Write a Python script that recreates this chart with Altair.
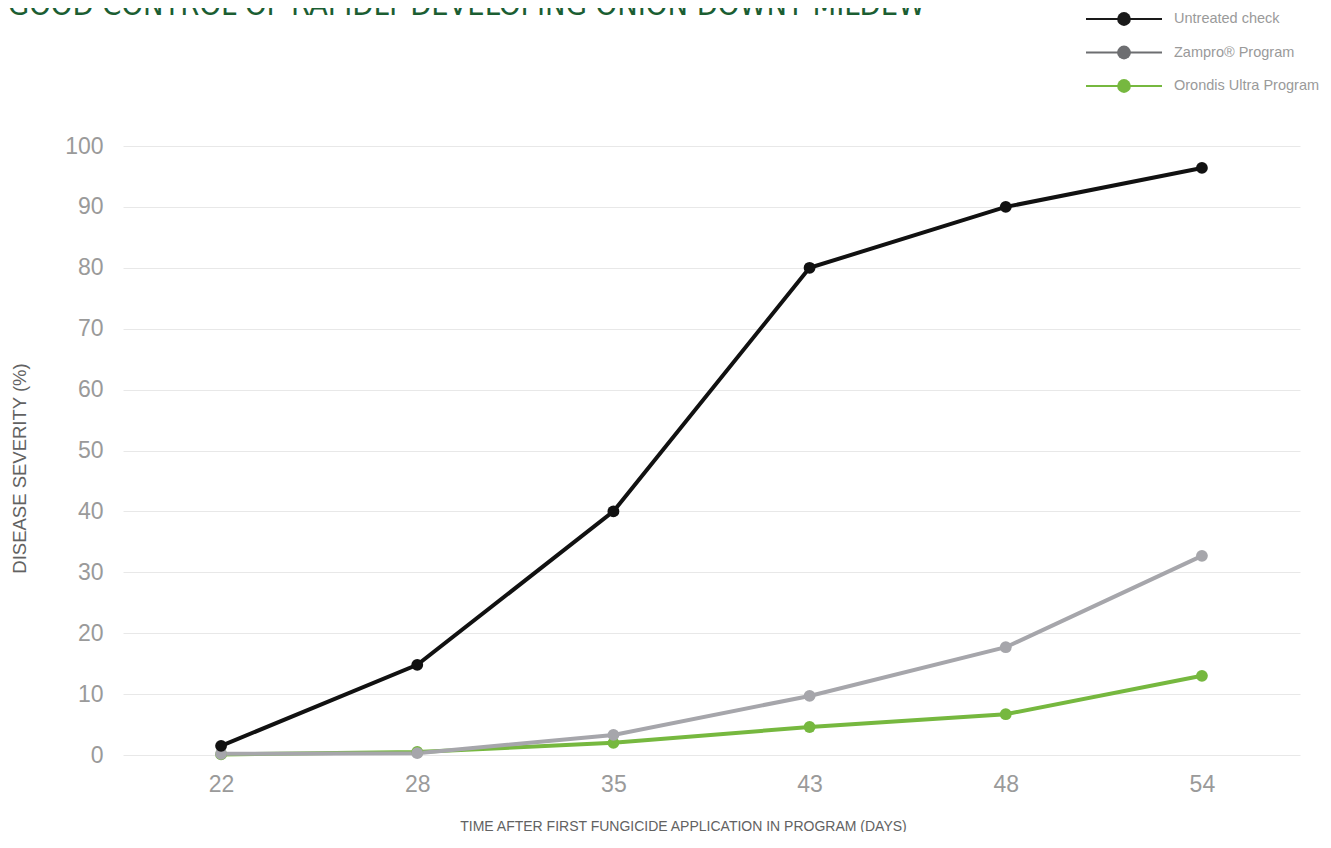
import altair as alt
import pandas as pd

# ---- data ----
days = [22, 28, 35, 43, 48, 54]
series = ["Untreated check", "Zampro® Program", "Orondis Ultra Program"]
untreated = [1.5, 14.8, 40.0, 80.0, 90.0, 96.4]
zampro = [0.2, 0.3, 3.3, 9.7, 17.7, 32.7]
orondis = [0.1, 0.5, 2.0, 4.6, 6.7, 13.0]
y_ticks = list(range(0, 101, 10))

line_colors = ["#111111", "#a6a6ab", "#76b83f"]
legend_colors = ["#1a1a1a", "#6d6e71", "#76b83f"]

title_text = "GOOD CONTROL OF RAPIDLY DEVELOPING ONION DOWNY MILDEW"
x_title = "TIME AFTER FIRST FUNGICIDE APPLICATION IN PROGRAM (DAYS)"
y_title = "DISEASE SEVERITY (%)"

FONT = "Liberation Sans, Arial, Helvetica, sans-serif"
LABEL_GRAY = "#9a9a9a"
TITLE_GRAY = "#626262"

rows = []
for name, vals in [(series[2], orondis), (series[1], zampro), (series[0], untreated)]:
    for d, v in zip(days, vals):
        rows.append({"series": name, "day": d, "value": v})
df = pd.DataFrame(rows)

color = alt.Color("series:N", scale=alt.Scale(domain=series, range=line_colors), legend=None)

x_enc = alt.X(
    "day:O",
    scale=alt.Scale(type="point", padding=0.5),
    axis=alt.Axis(
        title=x_title,
        labelAngle=0,
        labelFontSize=23,
        labelColor=LABEL_GRAY,
        labelFont=FONT,
        labelPadding=18,
        ticks=False,
        domain=False,
        grid=False,
        titleFont=FONT,
        titleFontSize=14,
        titleFontWeight="normal",
        titleColor=TITLE_GRAY,
        titleX=560,
        titleY=71,
        titleAlign="center",
        titleBaseline="middle",
    ),
)
y_enc = alt.Y(
    "value:Q",
    scale=alt.Scale(domain=[0, 100], nice=False),
    axis=alt.Axis(
        title=y_title,
        values=y_ticks,
        labelFontSize=23,
        labelColor=LABEL_GRAY,
        labelFont=FONT,
        labelPadding=20,
        ticks=False,
        domain=False,
        grid=True,
        gridColor="#e8e8e8",
        gridWidth=1,
        titleFont=FONT,
        titleFontSize=18.5,
        titleFontWeight="normal",
        titleColor=TITLE_GRAY,
        titleAngle=270,
        titleX=-104,
        titleY=322,
        titleAlign="center",
        titleBaseline="middle",
    ),
)

lines = alt.Chart(df).mark_line(strokeWidth=4).encode(
    x=x_enc, y=y_enc, color=color, detail="series:N"
)
points = alt.Chart(df).mark_circle(size=140, opacity=1).encode(
    x=x_enc, y=y_enc, color=color
)
main = alt.layer(lines, points)

# ---- legend (top right) ----
leg = pd.DataFrame({"name": series, "lc": legend_colors})
ly = alt.Y(
    "name:N",
    sort=series,
    scale=alt.Scale(type="point", range=[-127, -60], padding=0),
    axis=None,
)
lcolor = alt.Color("lc:N", scale=None)
leg_rule = alt.Chart(leg).mark_rule(strokeWidth=2).encode(
    x=alt.value(963), x2=alt.value(1039), y=ly, color=lcolor
)
leg_pt = alt.Chart(leg).mark_circle(size=190, opacity=1).encode(
    x=alt.value(1001), y=ly, color=lcolor
)
leg_txt = alt.Chart(leg).mark_text(
    align="left", baseline="middle", fontSize=14.5, font=FONT, color=LABEL_GRAY
).encode(x=alt.value(1051), y=ly, text="name:N")
legend = alt.layer(leg_rule, leg_pt, leg_txt)

# ---- title (clipped at top like the reference) ----
title = alt.Chart(pd.DataFrame({"t": [title_text]})).mark_text(
    align="left",
    baseline="alphabetic",
    fontSize=30.5,
    font="Liberation Sans Narrow, DejaVu Sans Condensed, Arial Narrow, sans-serif",
    color="#1b5e32",
).encode(x=alt.value(-115), y=alt.value(-131), text="t:N")

chart = (
    alt.layer(title, main, legend)
    .resolve_scale(y="independent")
    .properties(
        width=1177,
        height=609,
        padding={"left": 115, "top": 138, "right": 23, "bottom": 77},
        autosize=alt.AutoSizeParams(type="none"),
        background="white",
    )
    .configure_view(stroke=None)
)

chart.save("out.html", embed_options={"renderer": "svg", "actions": False})
